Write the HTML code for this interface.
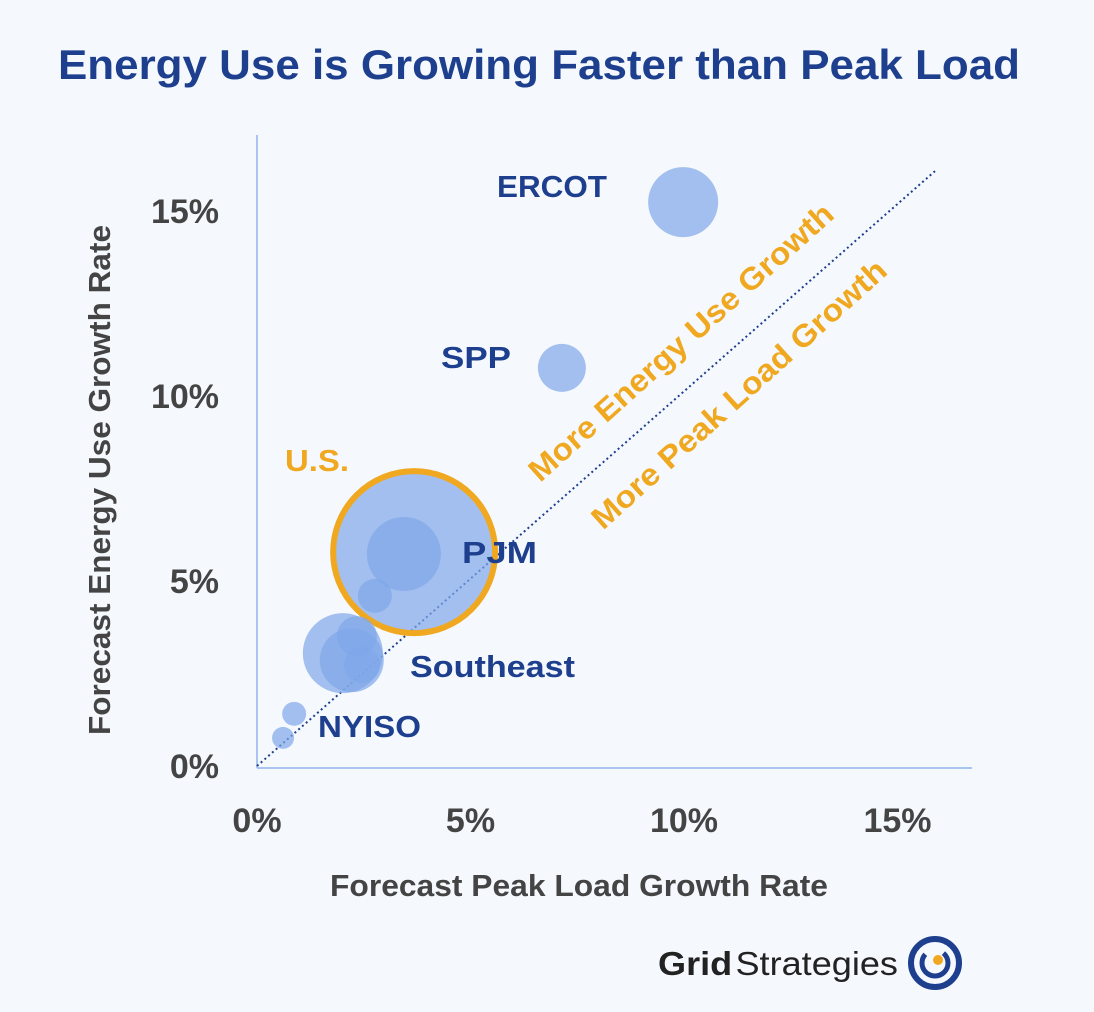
<!DOCTYPE html>
<html><head><meta charset="utf-8"><style>
body{margin:0;background:#f5f9fe;}
svg{display:block;font-family:"Liberation Sans",sans-serif;}
</style></head><body>
<svg id="c" width="1094" height="1012">
<rect width="1094" height="1012" fill="#f5f9fe"/>
<text x="58" y="79" textLength="962" lengthAdjust="spacingAndGlyphs" font-size="42" font-weight="bold" fill="#1d3f8e">Energy Use is Growing Faster than Peak Load</text>
<line x1="257" y1="135" x2="257" y2="768" stroke="#a9c4ee" stroke-width="2"/>
<line x1="257" y1="768" x2="972" y2="768" stroke="#a9c4ee" stroke-width="2"/>
<g id="ticks"></g>
<line id="diag" stroke="#1d3f8e" stroke-width="2" stroke-dasharray="2,3"/>
<g id="bubbles"></g>
<g id="labels"></g>
<text x="0" y="0" transform="translate(688,350) rotate(-42)" text-anchor="middle" textLength="398" lengthAdjust="spacingAndGlyphs" font-size="31" font-weight="bold" fill="#f0a820">More Energy Use Growth</text>
<text x="0" y="0" transform="translate(746,402) rotate(-42)" text-anchor="middle" textLength="385" lengthAdjust="spacingAndGlyphs" font-size="31" font-weight="bold" fill="#f0a820">More Peak Load Growth</text>
<text x="110" y="480" transform="rotate(-90 110 480)" text-anchor="middle" textLength="510" lengthAdjust="spacingAndGlyphs" font-size="31" font-weight="bold" fill="#444">Forecast Energy Use Growth Rate</text>
<text x="579" y="896" text-anchor="middle" textLength="498" lengthAdjust="spacingAndGlyphs" font-size="31" font-weight="bold" fill="#444">Forecast Peak Load Growth Rate</text>
<g>
<text x="658" y="975" font-size="33" fill="#222" textLength="240" lengthAdjust="spacingAndGlyphs"><tspan font-weight="bold">Grid</tspan><tspan dx="3">Strategies</tspan></text>
<circle cx="935" cy="963" r="24" fill="none" stroke="#1d3f8e" stroke-width="6"/>
<circle cx="935" cy="963" r="13" fill="none" stroke="#1d3f8e" stroke-width="5" stroke-dasharray="50,20"/>
<circle cx="938" cy="960" r="5" fill="#f0a820"/>
</g>
</svg>
<script>
const xTicks=[0,5,10,15];
const yTicks=[0,5,10,15];
const names=["ERCOT","SPP","U.S.","PJM","r5","Southeast","r7","r8","r9","NYISO","r11"];
const peak=[9.98,7.14,3.68,3.44,2.76,2.01,2.22,2.34,2.46,0.87,0.61];
const energy=[15.24,10.76,5.78,5.73,4.6,3.05,2.86,3.51,2.73,1.41,0.76];
const radius=[35,24,81,37,17,40,32,20,18,12,11];
const NS="http://www.w3.org/2000/svg";
const X=v=>257+v*42.7, Y=v=>766-v*37;
const tg=document.getElementById('ticks');
xTicks.forEach(t=>{const e=document.createElementNS(NS,'text');e.setAttribute('x',X(t));e.setAttribute('y',832);e.setAttribute('text-anchor','middle');e.setAttribute('font-size','34');e.setAttribute('font-weight','bold');e.setAttribute('fill','#444');e.textContent=t+'%';


tg.appendChild(e);});
yTicks.forEach(t=>{const e=document.createElementNS(NS,'text');e.setAttribute('x',219);e.setAttribute('y',Y(t)+12);e.setAttribute('text-anchor','end');e.setAttribute('font-size','34');e.setAttribute('font-weight','bold');e.setAttribute('fill','#444');e.textContent=t+'%';


tg.appendChild(e);});
const d=document.getElementById('diag');d.setAttribute('x1',X(0));d.setAttribute('y1',Y(0));d.setAttribute('x2',X(15.9));d.setAttribute('y2',Y(16.1));
const bg=document.getElementById('bubbles');
names.forEach((n,i)=>{const c=document.createElementNS(NS,'circle');c.setAttribute('cx',X(peak[i]));c.setAttribute('cy',Y(energy[i]));c.setAttribute('r',radius[i]);c.setAttribute('fill','#7fa6e8');c.setAttribute('fill-opacity','0.7');
if(n==="U.S."){c.setAttribute('stroke','#f0a820');c.setAttribute('stroke-width','6');}


bg.appendChild(c);});
const labs=[["ERCOT",497,197,"#1d3f8e",110],["SPP",441,368,"#1d3f8e",70],["U.S.",285,471,"#f0a820",64],["PJM",462,563,"#1d3f8e",75],["Southeast",410,677,"#1d3f8e",165],["NYISO",318,737,"#1d3f8e",103]];
const lg=document.getElementById('labels');
labs.forEach(l=>{const e=document.createElementNS(NS,'text');e.setAttribute('x',l[1]);e.setAttribute('y',l[2]);e.setAttribute('font-size','31');e.setAttribute('font-weight','bold');e.setAttribute('fill',l[3]);e.setAttribute('textLength',l[4]);e.setAttribute('lengthAdjust','spacingAndGlyphs');e.textContent=l[0];


lg.appendChild(e);});
</script>
</body></html>
